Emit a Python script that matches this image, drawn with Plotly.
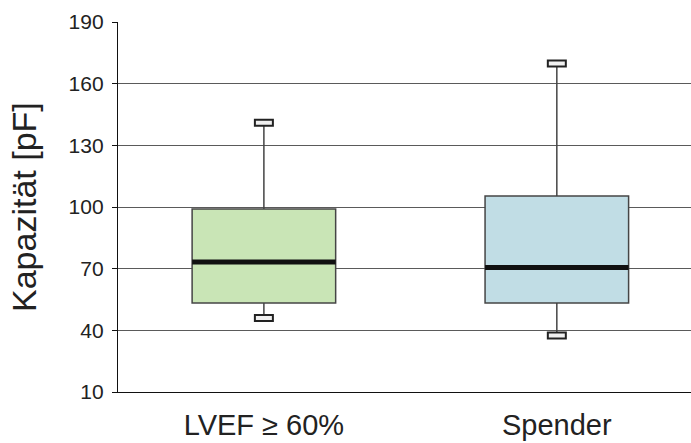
import plotly.graph_objects as go

# Capacitance distributions per group (five-number summaries, pF)
groups = ["LVEF ≥ 60%", "Spender"]
lower = [46.0, 37.5]
q1 = [53.3, 53.3]
median = [73.2, 70.6]
q3 = [99.0, 105.4]
upper = [141.0, 169.8]
fills = ["#c9e5b6", "#c1dde5"]

y_ticks = [10, 40, 70, 100, 130, 160, 190]
y_title = "Kapazität [pF]"

BOX_W = 0.49
FONT = "Liberation Sans, Arial, sans-serif"

fig = go.Figure()

for i, g in enumerate(groups):
    fig.add_trace(go.Box(
        x=[g],
        q1=[q1[i]], median=[median[i]], q3=[q3[i]],
        lowerfence=[lower[i]], upperfence=[upper[i]],
        width=BOX_W,
        whiskerwidth=0,
        fillcolor=fills[i],
        line=dict(color="#454545", width=1.5),
        boxpoints=False,
        hoverinfo="skip",
        showlegend=False,
    ))

shapes = []
for i in range(len(groups)):
    # thick median bar
    shapes.append(dict(
        type="line", xref="x", yref="y",
        x0=i - BOX_W / 2, x1=i + BOX_W / 2, y0=median[i], y1=median[i],
        line=dict(color="#111111", width=5), layer="above",
    ))
    # small hollow caps at whisker ends
    for v in (lower[i], upper[i]):
        shapes.append(dict(
            type="rect", xref="x", yref="y",
            xsizemode="pixel", xanchor=i, x0=-9, x1=9,
            ysizemode="pixel", yanchor=v, y0=-3, y1=3,
            line=dict(color="#222222", width=2),
            fillcolor="#f0f0f0", layer="above",
        ))

fig.update_layout(
    width=691, height=443,
    margin=dict(l=118, r=0, t=22, b=51),
    paper_bgcolor="white", plot_bgcolor="white",
    font=dict(family=FONT, color="#222222"),
    shapes=shapes,
    annotations=[dict(
        text=y_title, textangle=-90,
        xref="paper", yref="paper", x=0, y=0.5,
        xanchor="center", yanchor="middle", xshift=-94,
        showarrow=False,
        font=dict(size=34, family=FONT, color="#222222"),
    )],
    xaxis=dict(
        type="category",
        range=[-0.498, 1.458],
        automargin=False,
        showgrid=False, zeroline=False,
        showline=True, linecolor="#111111", linewidth=1.3,
        ticks="", tickfont=dict(size=29, family=FONT, color="#222222"),
        ticklabelstandoff=7,
    ),
    yaxis=dict(
        range=[10, 190],
        tickvals=y_ticks,
        automargin=False,
        showgrid=True, gridcolor="#5a5a5a", gridwidth=1,
        zeroline=False,
        showline=True, linecolor="#111111", linewidth=1.3,
        ticks="outside", ticklen=5, tickcolor="#111111",
        tickfont=dict(size=21, family=FONT, color="#222222"),
        ticklabelstandoff=4,
    ),
)

fig.write_html("out.html")
